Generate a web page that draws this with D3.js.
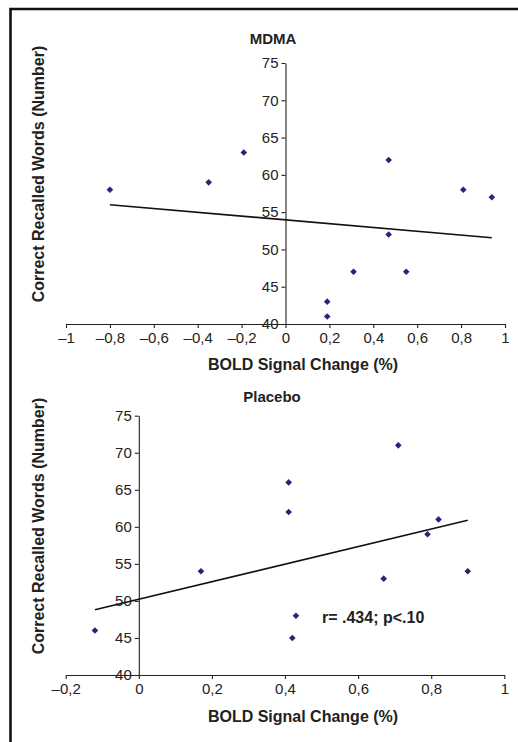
<!DOCTYPE html>
<html><head><meta charset="utf-8">
<script src="https://cdn.jsdelivr.net/npm/d3@7"></script>
<style>
html,body{margin:0;padding:0;background:#fff;}
svg{display:block;font-family:"Liberation Sans",Arial,sans-serif;}
</style></head>
<body>
<svg id="c" width="518" height="742"></svg>
<script>
// MDMA panel
const mdmaX = [-0.80, -0.35, -0.19, 0.47, 0.81, 0.94, 0.47, 0.31, 0.55, 0.19, 0.19];
const mdmaY = [58, 59, 63, 62, 58, 57, 52, 47, 47, 43, 41];
const mdmaXTicks = [-1, -0.8, -0.6, -0.4, -0.2, 0, 0.2, 0.4, 0.6, 0.8, 1];
// Placebo panel
const placeboX = [0.71, 0.41, 0.41, 0.82, 0.79, 0.17, 0.67, 0.90, 0.43, 0.42, -0.12];
const placeboY = [71, 66, 62, 61, 59, 54, 53, 54, 48, 45, 46];
const placeboXTicks = [-0.2, 0, 0.2, 0.4, 0.6, 0.8, 1];
const yTicks = [40, 45, 50, 55, 60, 65, 70, 75];
const titles = ["MDMA", "Placebo"];
const xLabel = "BOLD Signal Change (%)";
const yLabel = "Correct Recalled Words (Number)";
const annotation = "r= .434; p<.10";

const svg = d3.select("#c");
const ink = "#222";
const markColor = "#25257a";

// frame
svg.append("path").attr("d","M10.5,742 L10.5,9 L518,9").attr("fill","none").attr("stroke","#111").attr("stroke-width",2.6);

const fmt = d => String(+d.toFixed(1)).replace(".", ",").replace("-", "\u2013");

function ols(xs, ys){
  const n = xs.length, mx = d3.mean(xs), my = d3.mean(ys);
  let sxy=0, sxx=0;
  for(let i=0;i<n;i++){ sxy += (xs[i]-mx)*(ys[i]-my); sxx += (xs[i]-mx)**2; }
  const b = sxy/sxx; return {b, a: my - b*mx};
}

function panel(cfg){
  const {xs, ys, xDomain, xRange, yRange, xTicks, title, titlePos, xLabPos, yLabPos} = cfg;
  const x = d3.scaleLinear().domain(xDomain).range(xRange);
  const y = d3.scaleLinear().domain([40,75]).range(yRange);
  const g = svg.append("g");

  const xa = g.append("g").attr("transform",`translate(0,${y(40)})`)
    .call(d3.axisBottom(x).tickValues(xTicks).tickFormat(fmt).tickSize(4).tickSizeOuter(0));
  const ya = g.append("g").attr("transform",`translate(${x(0)},0)`)
    .call(d3.axisLeft(y).tickValues(yTicks).tickFormat(d3.format("d")).tickSize(4).tickSizeOuter(0));
  [xa, ya].forEach(a => {
    a.selectAll("path,line").attr("stroke", ink).attr("stroke-width",1.1);
    a.selectAll("text").attr("fill","#222").style("font-size","15px").style("font-family","'Liberation Sans',Arial,sans-serif");
  });
  xa.selectAll("text").attr("dy","0.85em").attr("y",6);
  ya.selectAll("text").attr("x",-7);

  // regression line
  const r = ols(xs, ys);
  const [x0, x1] = d3.extent(xs);
  g.append("line")
    .attr("x1", x(x0)).attr("y1", y(r.a + r.b*x0))
    .attr("x2", x(x1)).attr("y2", y(r.a + r.b*x1))
    .attr("stroke","#111").attr("stroke-width",1.6);

  // points
  const sym = d3.symbol(d3.symbolSquare, 22);
  g.selectAll("path.pt").data(xs.map((v,i)=>[v, ys[i]])).join("path")
    .attr("class","pt").attr("d", sym)
    .attr("transform", d => `translate(${x(d[0])},${y(d[1])}) rotate(45)`)
    .attr("fill", markColor);

  g.append("text").attr("x", titlePos[0]).attr("y", titlePos[1]).attr("text-anchor","middle")
    .style("font-weight","bold").style("font-size","15px").attr("fill","#222").text(title);
  g.append("text").attr("x", xLabPos[0]).attr("y", xLabPos[1]).attr("text-anchor","middle")
    .style("font-weight","bold").style("font-size","16px").attr("fill","#222").text(xLabel);
  g.append("text").attr("transform", `translate(${yLabPos[0]},${yLabPos[1]}) rotate(-90)`)
    .attr("text-anchor","middle")
    .style("font-weight","bold").style("font-size","16px").attr("fill","#222").text(yLabel);
  return {x, y, g};
}

panel({xs: mdmaX, ys: mdmaY, xDomain:[-1,1], xRange:[66,505], yRange:[324,63], xTicks: mdmaXTicks,
  title: titles[0], titlePos:[273,44], xLabPos:[303,370], yLabPos:[44,174]});
const p2 = panel({xs: placeboX, ys: placeboY, xDomain:[-0.2,1], xRange:[65.7,504.3], yRange:[675,415.7], xTicks: placeboXTicks,
  title: titles[1], titlePos:[272,402], xLabPos:[303,722], yLabPos:[44,526]});

p2.g.append("text").attr("x", 322).attr("y", 623)
  .style("font-weight","bold").style("font-size","16px").attr("fill","#222").text(annotation);
</script>
</body></html>
